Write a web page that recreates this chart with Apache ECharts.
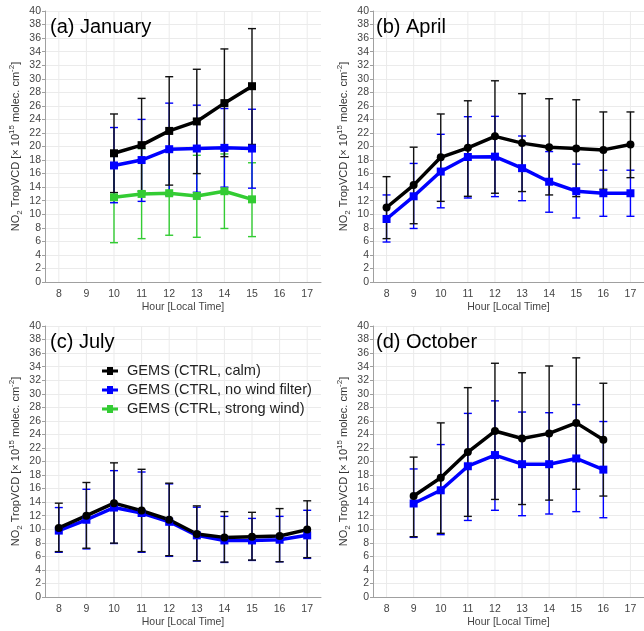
<!DOCTYPE html>
<html>
<head>
<meta charset="utf-8">
<script src="https://cdn.jsdelivr.net/npm/echarts@6/dist/echarts.min.js"></script>
<style>html,body{margin:0;padding:0;background:#fff;}#c{width:644px;height:631px;}</style>
</head>
<body>
<div id="c"></div>
<script>
// ---------- data ----------
const hours = ['8','9','10','11','12','13','14','15','16','17'];
const yTicksMax = 40;

const janCalm   = [null,null,19.0,20.2,22.3,23.7,26.4,28.9,null,null];
const janCalmLo = [null,null,13.2,13.4,14.3,16.0,18.5,20.3,null,null];
const janCalmHi = [null,null,24.8,27.1,30.3,31.4,34.4,37.4,null,null];
const janAll    = [null,null,17.2,18.0,19.6,19.7,19.8,19.7,null,null];
const janAllLo  = [null,null,11.7,11.9,12.8,13.25,14.0,13.85,null,null];
const janAllHi  = [null,null,22.8,24.0,26.4,26.1,25.6,25.5,null,null];
const janWind   = [null,null,12.5,13.0,13.1,12.7,13.4,12.2,null,null];
const janWindLo = [null,null,5.8,6.4,6.9,6.6,7.9,6.7,null,null];
const janWindHi = [null,null,19.2,19.7,19.3,18.7,18.9,17.6,null,null];

const aprCalm   = [11.0,14.3,18.4,19.8,21.5,20.5,19.9,19.7,19.5,20.3];
const aprCalmLo = [6.4,8.6,11.9,12.65,13.1,13.35,12.85,12.6,13.7,15.4];
const aprCalmHi = [15.55,19.9,24.8,26.75,29.7,27.8,27.05,26.9,25.1,25.1];
const aprAll    = [9.3,12.65,16.3,18.45,18.5,16.8,14.8,13.4,13.1,13.1];
const aprAllLo  = [5.9,7.9,10.95,12.4,12.6,12.0,10.3,9.45,9.7,9.7];
const aprAllHi  = [12.85,17.5,21.8,24.4,24.45,21.55,19.25,17.4,16.5,16.5];

const julCalm   = [10.2,12.0,13.85,12.75,11.4,9.3,8.8,8.9,9.0,9.95];
const julCalmLo = [6.7,7.2,7.95,6.7,6.1,5.35,5.15,5.45,5.2,5.8];
const julCalmHi = [13.85,16.9,19.8,18.85,16.8,13.45,12.6,12.5,13.05,14.2];
const julAll    = [9.8,11.4,13.2,12.4,11.1,9.1,8.35,8.35,8.45,9.1];
const julAllLo  = [6.6,7.1,7.9,6.6,6.0,5.3,5.1,5.4,5.2,5.7];
const julAllHi  = [13.2,15.9,18.65,18.45,16.7,13.25,11.9,11.6,11.9,12.8];

const octCalm   = [null,14.9,17.6,21.4,24.5,23.4,24.15,25.7,23.2,null];
const octCalmLo = [null,8.9,9.4,11.9,14.4,13.65,14.3,15.9,14.9,null];
const octCalmHi = [null,20.65,25.7,30.9,34.5,33.1,34.1,35.3,31.55,null];
const octAll    = [null,13.8,15.75,19.3,20.95,19.6,19.6,20.45,18.8,null];
const octAllLo  = [null,8.8,9.2,11.3,12.8,12.0,12.25,12.6,11.7,null];
const octAllHi  = [null,18.9,22.5,27.1,28.95,27.3,27.2,28.4,25.9,null];

const panelTitles = ['(a) January','(b) April','(c) July','(d) October'];
const nameCalm = 'GEMS (CTRL, calm)';
const nameAll  = 'GEMS (CTRL, no wind filter)';
const nameWind = 'GEMS (CTRL, strong wind)';

// ---------- styling ----------
const FONT = '"Liberation Sans", Arial, sans-serif';
const C_BLACK = '#000000', C_BLUE = '#0000ff', C_GREEN = '#33cc33';
const grids = [
  {left:45, top:11, width:276, height:271},
  {left:373, top:11, width:276, height:271},
  {left:45, top:326, width:276, height:271},
  {left:373, top:326, width:276, height:271}
];
const legendIcon = 'path://M0,2.5L5,2.5L5,0L11,0L11,2.5L16,2.5L16,5.5L11,5.5L11,8L5,8L5,5.5L0,5.5Z';

function errData(lo, hi){
  const d=[];
  for(let i=0;i<lo.length;i++){ if(lo[i]!=null && hi[i]!=null) d.push([i, lo[i], hi[i]]); }
  return d;
}
function errSeries(gi, lo, hi, color){
  return {
    type:'custom', xAxisIndex:gi, yAxisIndex:gi, silent:true,
    encode:{x:0, y:[1,2]},
    data: errData(lo, hi),
    renderItem: function(params, api){
      const x=api.value(0), a=api.value(1), b=api.value(2);
      const p1=api.coord([x,a]), p2=api.coord([x,b]);
      const w=4, st={stroke:color, lineWidth:1.4};
      return {type:'group', children:[
        {type:'line', shape:{x1:p1[0],y1:p1[1],x2:p2[0],y2:p2[1]}, style:st},
        {type:'line', shape:{x1:p1[0]-w,y1:p1[1],x2:p1[0]+w,y2:p1[1]}, style:st},
        {type:'line', shape:{x1:p2[0]-w,y1:p2[1],x2:p2[0]+w,y2:p2[1]}, style:st}
      ]};
    }
  };
}
function lineSeries(gi, name, vals, color, symbol){
  return {
    type:'line', name:name, xAxisIndex:gi, yAxisIndex:gi, data:vals,
    symbol:symbol, symbolSize:8, showAllSymbol:true,
    itemStyle:{color:color}, lineStyle:{color:color, width:3.5},
    emphasis:{disabled:true}, z:3
  };
}
function vGrid(gi){
  return {
    type:'custom', xAxisIndex:gi, yAxisIndex:gi, silent:true, z:1,
    encode:{x:0, y:[1,2]},
    data: hours.map((h,i)=>[i,0,yTicksMax]),
    renderItem: function(params, api){
      const p1=api.coord([api.value(0),api.value(1)]), p2=api.coord([api.value(0),api.value(2)]);
      return {type:'line', shape:{x1:p1[0],y1:p1[1],x2:p2[0],y2:p2[1]}, style:{stroke:'#ebebeb', lineWidth:1}};
    }
  };
}

const xAxes = grids.map((g,i)=>({
  type:'category', gridIndex:i, data:hours, boundaryGap:true,
  axisLine:{lineStyle:{color:'#a0a0a0'}},
  axisTick:{alignWithLabel:true, length:3, lineStyle:{color:'#a0a0a0'}},
  axisLabel:{fontSize:10.5, color:'#444', margin:7, fontFamily:FONT},
  splitLine:{show:false},
  name:'Hour [Local Time]', nameLocation:'middle', nameGap:20,
  nameTextStyle:{fontSize:10.5, color:'#444', fontFamily:FONT}
}));
const yAxes = grids.map((g,i)=>({
  type:'value', gridIndex:i, min:0, max:yTicksMax, interval:2,
  axisLine:{show:true, lineStyle:{color:'#a0a0a0'}},
  axisTick:{show:true, length:3, lineStyle:{color:'#a0a0a0'}},
  axisLabel:{fontSize:10.5, color:'#444', margin:4, fontFamily:FONT},
  splitLine:{show:true, lineStyle:{color:'#ebebeb', width:1}},
  name:'{a|NO}{s|2}{a| TropVCD [× 10}{p|15}{a| molec. cm}{p|-2}{a|]}',
  nameLocation:'middle', nameRotate:90, nameGap:21,
  nameTextStyle:{color:'#333', fontFamily:FONT, rich:{
    a:{fontSize:11, color:'#333', lineHeight:16, fontFamily:FONT},
    s:{fontSize:8, color:'#333', lineHeight:10, verticalAlign:'bottom', fontFamily:FONT},
    p:{fontSize:8, color:'#333', lineHeight:10, verticalAlign:'top', fontFamily:FONT}
  }}
}));

const titles = [
  {text:panelTitles[0], left:50, top:15},
  {text:panelTitles[1], left:376, top:15},
  {text:panelTitles[2], left:50, top:330},
  {text:panelTitles[3], left:376, top:330}
].map(t=>Object.assign(t,{padding:0, textStyle:{fontSize:20, fontWeight:'normal', color:'#000', fontFamily:FONT, lineHeight:24}}));

// order: July first so the legend uses its symbols
const series = [
  vGrid(0), vGrid(1), vGrid(2), vGrid(3),
  // (c) July
  errSeries(2, julAllLo, julAllHi, C_BLUE),
  lineSeries(2, nameAll, julAll, C_BLUE, 'rect'),
  errSeries(2, julCalmLo, julCalmHi, '#111'),
  lineSeries(2, nameCalm, julCalm, C_BLACK, 'circle'),
  // (a) January
  errSeries(0, janWindLo, janWindHi, C_GREEN),
  lineSeries(0, nameWind, janWind, C_GREEN, 'rect'),
  errSeries(0, janAllLo, janAllHi, C_BLUE),
  lineSeries(0, nameAll, janAll, C_BLUE, 'rect'),
  errSeries(0, janCalmLo, janCalmHi, '#111'),
  lineSeries(0, nameCalm, janCalm, C_BLACK, 'rect'),
  // (b) April
  errSeries(1, aprAllLo, aprAllHi, C_BLUE),
  lineSeries(1, nameAll, aprAll, C_BLUE, 'rect'),
  errSeries(1, aprCalmLo, aprCalmHi, '#111'),
  lineSeries(1, nameCalm, aprCalm, C_BLACK, 'circle'),
  // (d) October
  errSeries(3, octAllLo, octAllHi, C_BLUE),
  lineSeries(3, nameAll, octAll, C_BLUE, 'rect'),
  errSeries(3, octCalmLo, octCalmHi, '#111'),
  lineSeries(3, nameCalm, octCalm, C_BLACK, 'circle')
];

const chart = echarts.init(document.getElementById('c'), null, {renderer:'canvas'});
chart.setOption({
  animation:false,
  backgroundColor:'#fff',
  title: titles,
  grid: grids,
  xAxis: xAxes,
  yAxis: yAxes,
  legend:{
    data:[
      {name:nameCalm, icon:legendIcon},
      {name:nameAll, icon:legendIcon},
      {name:nameWind, icon:legendIcon}
    ],
    orient:'vertical', left:102, top:363, padding:0,
    itemWidth:16, itemHeight:8, itemGap:3,
    selectedMode:false,
    textStyle:{fontSize:14.6, color:'#222', fontFamily:FONT, lineHeight:16, padding:[0,0,0,4]}
  },
  series: series
});
</script>
</body>
</html>
